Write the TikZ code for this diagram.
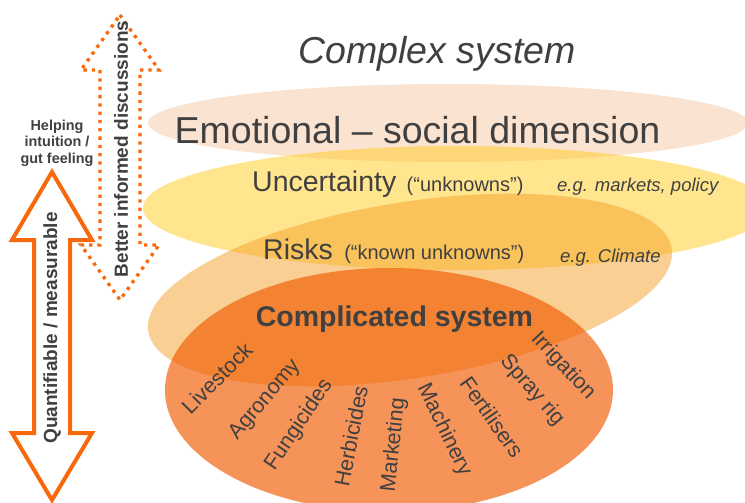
\documentclass[tikz,border=0pt]{standalone}
\usepackage{fontspec}
\setmainfont{Liberation Sans}
\usetikzlibrary{positioning}
\definecolor{cspeach}{RGB}{248,200,165}
\definecolor{csyellow}{RGB}{255,205,30}
\definecolor{csamber}{RGB}{245,160,40}
\definecolor{csorange}{RGB}{240,90,0}
\definecolor{csarrow}{RGB}{248,104,12}
\definecolor{cstext}{RGB}{64,64,64}

\begin{document}
\begin{tikzpicture}[x=1pt,y=1pt,
  every node/.style={text=cstext,inner sep=0pt},
  title/.style={font=\fontsize{37.5}{40}\selectfont},
  level/.style={font=\fontsize{28.5}{32}\selectfont},
  note/.style={font=\fontsize{20}{24}\selectfont},
  eg/.style={font=\fontsize{18.5}{22}\selectfont\itshape},
  item/.style={font=\fontsize{21.5}{24}\selectfont},
  side/.style={font=\fontsize{19}{22}\selectfont\bfseries},
  hint/.style={font=\fontsize{14.4}{16.5}\selectfont\bfseries,align=center},
  dotarrow/.style={draw=csarrow,line width=3.3pt,dash pattern=on 3.3pt off 5pt},
  solidarrow/.style={draw=csarrow,line width=4pt,fill=white}
]
\clip (0,0) rectangle (745,-503);
\fill[white] (0,0) rectangle (745,-503);

% nested layers, outermost first
\fill[cspeach,fill opacity=0.5] (448,-123) ellipse [x radius=300,y radius=39];
\fill[csyellow,fill opacity=0.5] (456,-208) ellipse [x radius=313,y radius=62];
\fill[csamber,fill opacity=0.5,rotate around={9:(410,-290)}] (410,-290) ellipse [x radius=265,y radius=88];
\fill[csorange,fill opacity=0.65] (389,-390) ellipse [x radius=224,y radius=122];

% the two scale arrows
\draw[dotarrow] (120,-15) -- (159,-70) -- (140,-70) -- (140,-245) -- (159,-245) -- (120,-300)
  -- (81,-245) -- (100,-245) -- (100,-70) -- (81,-70) -- cycle;
\draw[solidarrow] (52,-172) -- (92,-240) -- (70,-240) -- (70,-433) -- (92,-433) -- (52,-500)
  -- (12,-433) -- (34,-433) -- (34,-240) -- (12,-240) -- cycle;

\node[side,rotate=90] (better) at (121,-149) {Better informed discussions};
\node[side,rotate=90] (quant) at (52,-328) {Quantifiable / measurable};
\node[hint] (gut) at (57,-143) {Helping\\intuition /\\gut feeling};

% layer labels
\node[title,anchor=base] (complex) at (437,-64) {\itshape Complex system};
\node[title,anchor=base] (emo) at (417.5,-143) {Emotional – social dimension};
\node[level,anchor=base west] (unc) at (252,-191) {Uncertainty};
\node[note,base right=10pt of unc] (uncnote) {(“unknowns”)};
\node[eg,anchor=base west] (uneg) at (557,-191) {e.g. markets, policy};
\node[level,anchor=base west] (risks) at (263,-259) {Risks};
\node[note,base right=11pt of risks] (risknote) {(“known unknowns”)};
\node[eg,anchor=base west] (riskeg) at (560,-262) {e.g. Climate};
\node[level,anchor=base,font=\fontsize{28.5}{32}\selectfont\bfseries] (compl) at (394.5,-326) {Complicated system};

% components of the complicated system
\node[item,rotate=45] (livestock) at (217,-378) {Livestock};
\node[item,rotate=50] (agronomy) at (265,-400) {Agronomy};
\node[item,rotate=56] (fungi) at (299,-425) {Fungicides};
\node[item,rotate=79] (herbi) at (351,-436) {Herbicides};
\node[item,rotate=84] (market) at (394,-445) {Marketing};
\node[item,rotate=-64] (machin) at (444,-430) {Machinery};
\node[item,rotate=-55] (fert) at (492,-417) {Fertilisers};
\node[item,rotate=-49] (spray) at (532,-390) {Spray rig};
\node[item,rotate=-47] (irrig) at (563,-366) {Irrigation};
\end{tikzpicture}
\end{document}
